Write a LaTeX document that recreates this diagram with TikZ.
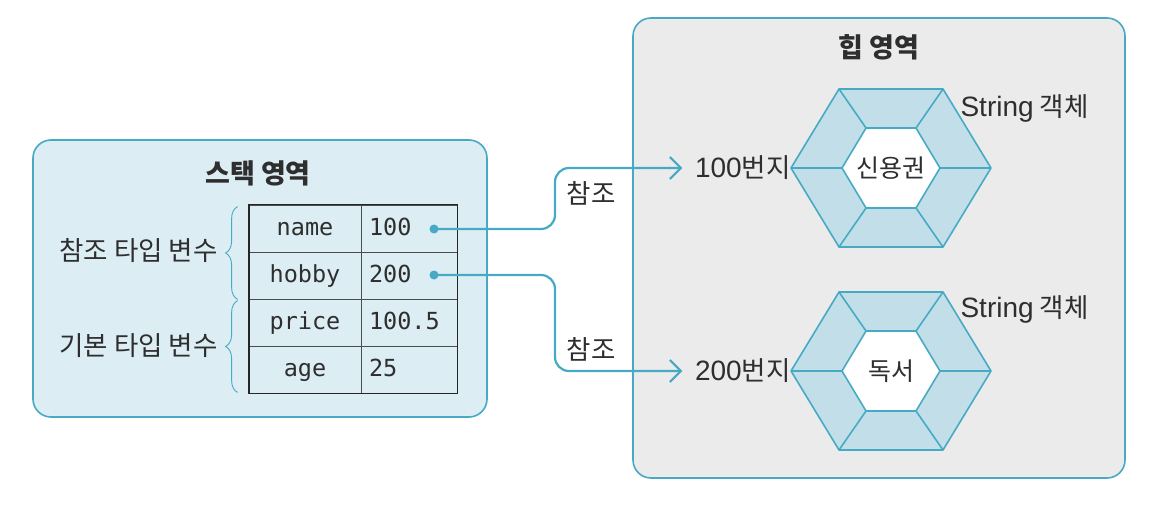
\documentclass[tikz,border=0pt]{standalone}
\usepackage{fontspec}
\setmainfont{Noto Sans CJK KR}
\setmonofont{DejaVu Sans Mono}
\newfontfamily\latfont{Liberation Sans}
\usetikzlibrary{arrows.meta,decorations.pathreplacing,calc}
\definecolor{lineblue}{HTML}{46AAC4}
\definecolor{stackfill}{HTML}{DCEDF4}
\definecolor{heapfill}{HTML}{EBEBEC}
\definecolor{ringfill}{HTML}{C2DFE9}
\definecolor{textgray}{HTML}{2E2E2E}

\begin{document}
\begin{tikzpicture}[x=1pt, y=-1pt, font=\fontsize{26.5}{30}\selectfont, text=textgray,
    area/.style={draw=lineblue, line width=1.6pt, rounded corners=18pt, inner sep=0pt},
    title/.style={font=\bfseries\fontsize{27}{30}\selectfont},
    namecell/.style={draw=black!70, line width=0.8pt, minimum height=47pt, inner ysep=0pt,
        text width=100pt, inner xsep=6pt, align=center, text height=17pt, text depth=3pt,
        font=\ttfamily\fontsize{23.5}{26}\selectfont},
    valcell/.style={draw=black!70, line width=0.8pt, minimum height=47pt, inner ysep=0pt,
        text width=80pt, inner xsep=8pt, align=left, text height=17pt, text depth=3pt,
        font=\ttfamily\fontsize{23.5}{26}\selectfont},
    dot/.style={circle, fill=lineblue, inner sep=0pt, minimum size=9pt},
    ref/.style={draw=lineblue, line width=2.2pt, rounded corners=14pt,
        -{Straight Barb[length=11pt, width=22pt]}, shorten >=9pt},
    brace/.style={draw=lineblue, line width=0.9pt, decorate,
        decoration={brace, amplitude=12pt}},
    ring/.style={fill=ringfill, draw=lineblue, line width=1.6pt, line join=round},
    core/.style={fill=white, draw=lineblue, line width=1.6pt, line join=round},
    hexline/.style={draw=lineblue, line width=1.6pt}]

    \useasboundingbox (0,0) rectangle (1156,505);

    % ==========================================
    % 1. STACK AREA
    % ==========================================
    \node[area, fill=stackfill, minimum width=454pt, minimum height=277pt] (stack) at (260,278.5) {};
    \node[title] (stacktitle) at (258,173) {스택 영역};

    % Table of variables
    \node[namecell] (n1) at (305,228.5) {name};
    \node[valcell] (v1) at (409,228.5) {100};
    \node[namecell] (n2) at (305,275.5) {hobby};
    \node[valcell] (v2) at (409,275.5) {200};
    \node[namecell] (n3) at (305,322.5) {price};
    \node[valcell] (v3) at (409,322.5) {100.5};
    \node[namecell] (n4) at (305,369.5) {age};
    \node[valcell] (v4) at (409,369.5) {25};
    \draw[black!85, line width=1.8pt] (n1.north west) rectangle (v4.south east);

    % Reference dots
    \node[dot] (d1) at (434,229) {};
    \node[dot] (d2) at (434,275) {};

    % Braces and group labels
    \draw[brace] ($(n2.south west)+(-11,0)$) -- ($(n1.north west)+(-11,2)$);
    \draw[brace] ($(n4.south west)+(-11,-1)$) -- ($(n3.north west)+(-11,2)$);
    \node[anchor=east] (reflabel) at (221,251) {참조 타입 변수};
    \node[anchor=east] (baselabel) at (221,346) {기본 타입 변수};

    % ==========================================
    % 2. HEAP AREA
    % ==========================================
    \node[area, fill=heapfill, minimum width=492pt, minimum height=460pt] (heap) at (879,248) {};
    \node[title] (heaptitle) at (879,47) {힙 영역};

    % First String object
    \begin{scope}[shift={(891,168)}]
        \filldraw[ring] (-100,0) -- (-52,-79) -- (52,-79) -- (100,0) -- (52,79) -- (-52,79) -- cycle;
        \filldraw[core] (-49,0) -- (-25,-40) -- (25,-40) -- (49,0) -- (25,40) -- (-25,40) -- cycle;
        \draw[hexline] (-100,0) -- (-49,0) (-52,-79) -- (-25,-40) (52,-79) -- (25,-40)
            (100,0) -- (49,0) (52,79) -- (25,40) (-52,79) -- (-25,40);
        \node[font=\fontsize{25}{28}\selectfont] (obj1) at (0,0) {신용권};
    \end{scope}
    \node[anchor=west] (kind1) at (957,108) {{\latfont\fontsize{28}{30}\selectfont String} 객체};
    \node[anchor=east] (addr1) at (794,168) {{\latfont\fontsize{28}{30}\selectfont 100}번지};

    % Second String object
    \begin{scope}[shift={(891,371)}]
        \filldraw[ring] (-100,0) -- (-52,-79) -- (52,-79) -- (100,0) -- (52,79) -- (-52,79) -- cycle;
        \filldraw[core] (-49,0) -- (-25,-40) -- (25,-40) -- (49,0) -- (25,40) -- (-25,40) -- cycle;
        \draw[hexline] (-100,0) -- (-49,0) (-52,-79) -- (-25,-40) (52,-79) -- (25,-40)
            (100,0) -- (49,0) (52,79) -- (25,40) (-52,79) -- (-25,40);
        \node[font=\fontsize{25}{28}\selectfont] (obj2) at (0,0) {독서};
    \end{scope}
    \node[anchor=west] (kind2) at (957,309) {{\latfont\fontsize{28}{30}\selectfont String} 객체};
    \node[anchor=east] (addr2) at (794,371) {{\latfont\fontsize{28}{30}\selectfont 200}번지};

    % ==========================================
    % 3. REFERENCES stack -> heap
    % ==========================================
    \coordinate (bend1) at (555,200);
    \coordinate (bend2) at (555,320);
    \draw[ref] (d1.center) -| (bend1) |- (addr1.west);
    \draw[ref] (d2.center) -| (bend2) |- (addr2.west);
    \node (ref1) at (591,193) {참조};
    \node (ref2) at (591,349) {참조};

\end{tikzpicture}
\end{document}
